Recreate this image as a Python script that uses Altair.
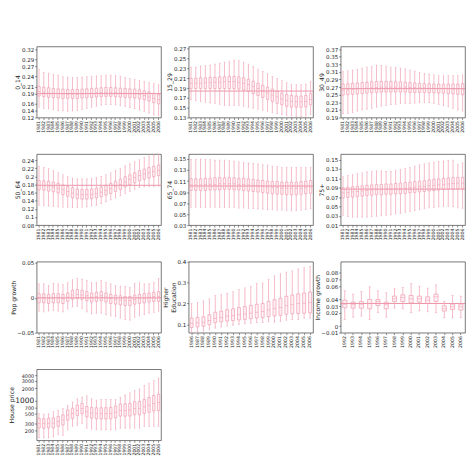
import altair as alt
import pandas as pd

# ---------------- data ----------------
YEARS_81 = list(range(1981, 2007))
YEARS_86 = list(range(1986, 2007))
YEARS_92 = list(range(1992, 2007))

# 0_14
A_MED = [0.196,0.194,0.192,0.191,0.190,0.189,0.188,0.188,0.188,0.189,0.190,0.191,0.192,0.193,0.194,0.194,0.193,0.192,0.191,0.190,0.189,0.187,0.184,0.180,0.176,0.172]
A_Q1 = [0.183,0.181,0.179,0.178,0.177,0.176,0.176,0.176,0.176,0.177,0.178,0.179,0.180,0.181,0.182,0.182,0.181,0.180,0.179,0.178,0.177,0.175,0.172,0.168,0.164,0.160]
A_Q3 = [0.211,0.209,0.207,0.205,0.204,0.203,0.202,0.202,0.202,0.203,0.204,0.205,0.206,0.207,0.208,0.208,0.207,0.206,0.205,0.204,0.203,0.201,0.198,0.195,0.191,0.187]
A_LO = [0.150,0.147,0.145,0.143,0.140,0.139,0.138,0.139,0.141,0.144,0.147,0.150,0.153,0.156,0.158,0.158,0.157,0.155,0.152,0.149,0.146,0.142,0.138,0.133,0.128,0.125]
A_HI = [0.262,0.252,0.250,0.247,0.244,0.240,0.238,0.237,0.237,0.238,0.240,0.241,0.242,0.243,0.244,0.244,0.243,0.241,0.237,0.234,0.231,0.228,0.225,0.222,0.219,0.216]
A_REF = 0.19

# 15_29
B_MED = [0.200,0.200,0.200,0.201,0.201,0.202,0.202,0.203,0.203,0.203,0.202,0.200,0.197,0.193,0.189,0.185,0.180,0.176,0.172,0.168,0.165,0.163,0.162,0.162,0.163,0.167]
B_Q1 = [0.189,0.189,0.189,0.189,0.189,0.189,0.189,0.189,0.189,0.189,0.188,0.186,0.183,0.179,0.175,0.171,0.167,0.163,0.159,0.156,0.153,0.151,0.151,0.151,0.152,0.156]
B_Q3 = [0.210,0.210,0.211,0.211,0.212,0.212,0.213,0.213,0.214,0.214,0.213,0.211,0.208,0.204,0.200,0.196,0.192,0.188,0.184,0.180,0.177,0.175,0.174,0.174,0.175,0.179]
B_LO = [0.166,0.164,0.162,0.161,0.160,0.159,0.157,0.155,0.154,0.154,0.154,0.153,0.151,0.149,0.147,0.145,0.143,0.140,0.138,0.136,0.134,0.133,0.132,0.132,0.133,0.136]
B_HI = [0.233,0.233,0.235,0.236,0.237,0.239,0.241,0.243,0.245,0.247,0.246,0.243,0.239,0.234,0.229,0.224,0.219,0.214,0.210,0.206,0.201,0.198,0.197,0.197,0.198,0.204]
B_REF = 0.184

# 30_49
C_MED = [0.262,0.263,0.264,0.265,0.266,0.267,0.268,0.269,0.270,0.270,0.270,0.270,0.270,0.270,0.269,0.269,0.268,0.268,0.267,0.267,0.266,0.266,0.266,0.265,0.265,0.265]
C_Q1 = [0.249,0.250,0.251,0.252,0.253,0.254,0.255,0.256,0.257,0.257,0.257,0.257,0.257,0.257,0.256,0.256,0.256,0.256,0.255,0.255,0.254,0.254,0.253,0.252,0.251,0.250]
C_Q3 = [0.278,0.279,0.280,0.281,0.282,0.283,0.284,0.285,0.285,0.285,0.285,0.284,0.284,0.283,0.282,0.281,0.280,0.279,0.279,0.278,0.278,0.278,0.278,0.278,0.278,0.279]
C_LO = [0.200,0.201,0.203,0.207,0.210,0.212,0.214,0.217,0.220,0.222,0.224,0.225,0.226,0.227,0.227,0.228,0.229,0.229,0.229,0.227,0.224,0.221,0.218,0.214,0.210,0.207]
C_HI = [0.311,0.313,0.315,0.317,0.320,0.323,0.325,0.328,0.327,0.325,0.323,0.322,0.320,0.318,0.315,0.312,0.309,0.306,0.304,0.302,0.300,0.300,0.300,0.300,0.300,0.302]
C_REF = 0.266

# 50_64
D_MED = [0.178,0.177,0.176,0.174,0.171,0.167,0.163,0.159,0.156,0.155,0.155,0.156,0.158,0.161,0.165,0.170,0.175,0.180,0.186,0.192,0.197,0.202,0.206,0.209,0.212,0.215]
D_Q1 = [0.167,0.166,0.164,0.162,0.159,0.155,0.151,0.147,0.145,0.144,0.144,0.145,0.147,0.150,0.154,0.158,0.163,0.168,0.174,0.179,0.184,0.189,0.193,0.196,0.199,0.202]
D_Q3 = [0.190,0.189,0.188,0.186,0.183,0.179,0.175,0.172,0.169,0.168,0.168,0.169,0.171,0.174,0.178,0.183,0.188,0.193,0.199,0.204,0.209,0.214,0.218,0.222,0.225,0.228]
D_LO = [0.129,0.128,0.127,0.126,0.125,0.124,0.124,0.123,0.123,0.124,0.125,0.127,0.129,0.133,0.137,0.142,0.147,0.152,0.158,0.163,0.168,0.172,0.174,0.175,0.175,0.176]
D_HI = [0.224,0.222,0.219,0.214,0.209,0.204,0.199,0.196,0.194,0.194,0.194,0.195,0.197,0.200,0.204,0.209,0.215,0.220,0.226,0.231,0.236,0.241,0.246,0.250,0.253,0.255]
D_REF = 0.178

# 65_74
E_MED = [0.103,0.103,0.103,0.104,0.104,0.104,0.105,0.105,0.105,0.105,0.104,0.104,0.103,0.102,0.101,0.100,0.099,0.098,0.098,0.097,0.097,0.097,0.097,0.097,0.098,0.099]
E_Q1 = [0.093,0.093,0.093,0.093,0.094,0.094,0.094,0.095,0.095,0.094,0.094,0.093,0.092,0.091,0.090,0.089,0.088,0.087,0.086,0.086,0.085,0.085,0.085,0.086,0.087,0.088]
E_Q3 = [0.114,0.114,0.114,0.115,0.115,0.116,0.116,0.116,0.116,0.116,0.115,0.115,0.114,0.113,0.112,0.111,0.110,0.109,0.109,0.108,0.108,0.108,0.108,0.109,0.110,0.111]
E_LO = [0.062,0.062,0.062,0.062,0.062,0.062,0.062,0.062,0.062,0.062,0.061,0.061,0.060,0.060,0.059,0.059,0.058,0.058,0.057,0.057,0.056,0.056,0.056,0.057,0.058,0.060]
E_HI = [0.149,0.149,0.150,0.149,0.149,0.148,0.148,0.148,0.147,0.146,0.145,0.144,0.143,0.142,0.141,0.140,0.139,0.137,0.136,0.135,0.135,0.135,0.135,0.135,0.135,0.135]
E_REF = 0.101

# 75+
F_MED = [0.079,0.080,0.081,0.082,0.083,0.084,0.085,0.086,0.086,0.087,0.087,0.088,0.088,0.089,0.090,0.091,0.092,0.093,0.094,0.095,0.096,0.097,0.098,0.099,0.100,0.100]
F_Q1 = [0.068,0.069,0.070,0.071,0.072,0.073,0.074,0.075,0.075,0.076,0.076,0.077,0.077,0.078,0.079,0.080,0.081,0.082,0.083,0.084,0.085,0.086,0.087,0.087,0.088,0.088]
F_Q3 = [0.090,0.091,0.092,0.093,0.094,0.095,0.096,0.097,0.097,0.098,0.098,0.099,0.100,0.101,0.102,0.103,0.104,0.105,0.107,0.108,0.109,0.110,0.111,0.112,0.112,0.112]
F_LO = [0.030,0.028,0.027,0.027,0.027,0.027,0.028,0.029,0.030,0.031,0.032,0.034,0.035,0.037,0.039,0.041,0.043,0.045,0.047,0.048,0.049,0.050,0.050,0.049,0.047,0.046]
F_HI = [0.114,0.116,0.118,0.120,0.122,0.124,0.125,0.126,0.126,0.125,0.125,0.127,0.129,0.131,0.133,0.136,0.139,0.141,0.143,0.145,0.146,0.147,0.148,0.149,0.140,0.143]
F_REF = 0.087

# Pop growth
G_MED = [0.000,0.000,-0.001,0.000,0.000,-0.001,0.001,0.004,0.005,0.004,0.003,0.001,0.002,0.003,0.001,-0.001,-0.002,-0.003,-0.004,-0.004,-0.002,-0.001,0.000,0.001,0.002,0.002]
G_Q1 = [-0.007,-0.007,-0.008,-0.007,-0.007,-0.008,-0.005,-0.002,-0.001,-0.002,-0.004,-0.006,-0.005,-0.004,-0.006,-0.008,-0.009,-0.010,-0.011,-0.011,-0.009,-0.008,-0.007,-0.006,-0.005,-0.005]
G_Q3 = [0.006,0.006,0.005,0.006,0.006,0.005,0.007,0.011,0.012,0.011,0.009,0.007,0.008,0.009,0.007,0.005,0.004,0.003,0.002,0.002,0.004,0.005,0.006,0.007,0.008,0.009]
G_LO = [-0.019,-0.020,-0.019,-0.018,-0.019,-0.020,-0.016,-0.013,-0.012,-0.015,-0.020,-0.023,-0.022,-0.022,-0.024,-0.026,-0.027,-0.029,-0.031,-0.032,-0.028,-0.026,-0.024,-0.022,-0.021,-0.019]
G_HI = [0.020,0.020,0.018,0.021,0.020,0.019,0.022,0.026,0.028,0.027,0.025,0.022,0.022,0.025,0.022,0.020,0.018,0.017,0.016,0.015,0.021,0.022,0.020,0.021,0.022,0.028]
G_REF = 0.0

# Higher Education
H_MED = [0.105,0.107,0.110,0.118,0.128,0.133,0.139,0.141,0.146,0.150,0.154,0.158,0.161,0.169,0.175,0.180,0.189,0.194,0.199,0.201,0.205]
H_Q1 = [0.085,0.088,0.091,0.098,0.108,0.112,0.116,0.118,0.121,0.124,0.127,0.130,0.132,0.137,0.140,0.143,0.148,0.150,0.152,0.153,0.155]
H_Q3 = [0.130,0.133,0.136,0.146,0.158,0.163,0.170,0.174,0.180,0.185,0.190,0.196,0.200,0.210,0.218,0.225,0.234,0.240,0.246,0.250,0.255]
H_LO = [0.062,0.064,0.068,0.074,0.082,0.087,0.092,0.096,0.100,0.102,0.105,0.108,0.108,0.112,0.110,0.114,0.120,0.122,0.122,0.128,0.130]
H_HI = [0.200,0.205,0.212,0.222,0.238,0.242,0.248,0.257,0.268,0.274,0.281,0.296,0.298,0.316,0.332,0.342,0.350,0.356,0.365,0.371,0.376]

# Income growth
I_MED = [0.033,0.032,0.033,0.034,0.037,0.032,0.041,0.043,0.041,0.041,0.039,0.044,0.026,0.029,0.029]
I_Q1 = [0.0275,0.027,0.027,0.026,0.031,0.026,0.037,0.037,0.035,0.036,0.034,0.037,0.0225,0.025,0.024]
I_Q3 = [0.039,0.036,0.037,0.040,0.040,0.036,0.045,0.047,0.046,0.045,0.044,0.048,0.0305,0.033,0.033]
I_LO = [0.010,0.0135,0.015,0.010,0.020,0.0135,0.027,0.026,0.020,0.023,0.0215,0.020,0.0125,0.0125,0.0125]
I_HI = [0.053,0.048,0.052,0.059,0.053,0.050,0.056,0.058,0.064,0.060,0.057,0.062,0.037,0.046,0.045]
I_REF = 0.034

# House price
J_MED = [296,290,296,300,325,355,460,507,600,660,555,520,507,500,500,507,540,600,600,610,660,660,725,790,870,915]
J_Q1 = [230,226,230,232,250,272,350,385,455,500,420,392,380,375,372,375,398,440,435,440,475,470,505,540,580,595]
J_Q3 = [390,382,390,396,430,470,610,675,800,880,740,700,690,690,695,710,760,850,860,880,960,980,1090,1210,1350,1460]
J_LO = [133,133,133,140,160,150,207,250,265,296,227,215,207,207,207,207,207,227,227,227,227,227,250,250,250,250]
J_HI = [500,490,495,555,600,660,790,950,1130,1240,1350,1130,1050,1090,1090,1090,1090,1240,1400,1560,1770,1940,2320,2670,3030,3500]

# ---------------- style ----------------
PINK = "#f19db0"
REFC = "#e6788f"
W = 126
H = 72
FONT = "DejaVu Sans"


def panel(years, med, q1, q3, lo, hi, title, domain, ticks, ref=None, log=False, label_size=None):
    df = pd.DataFrame({"year": years, "med": med, "q1": q1, "q3": q3, "lo": lo, "hi": hi})
    band = W / len(years)
    x = alt.X("year:O", title=None,
              scale=alt.Scale(paddingInner=0, paddingOuter=0),
              axis=alt.Axis(labelAngle=270, labelFontSize=4.7, labelPadding=1, tickSize=2,
                            labelOverlap=False, domain=False, labelFont=FONT))
    yscale = alt.Scale(domain=domain, nice=False, zero=False, type="log" if log else "linear")
    ax_kw = dict(values=ticks, format="~g", labelFontSize=5.6, tickSize=2, labelPadding=1,
                 domain=False, grid=False, titlePadding=0.5, titleFontSize=6.2,
                 labelFont=FONT, titleFont=FONT, titleFontWeight="normal")
    if label_size is not None:
        ax_kw["labelFontSize"] = label_size
    yaxis = alt.Axis(**ax_kw)

    def Y(field):
        return alt.Y(field, scale=yscale, axis=yaxis, title=title)

    base = alt.Chart(df).encode(x=x)
    layers = []
    if ref is not None:
        layers.append(alt.Chart(pd.DataFrame({"v": [ref]}))
                      .mark_rule(color=REFC, strokeWidth=0.8)
                      .encode(y=Y("v:Q")))
    layers += [
        base.mark_rule(color=PINK, strokeWidth=0.7).encode(y=Y("lo:Q"), y2="q1:Q"),
        base.mark_rule(color=PINK, strokeWidth=0.7).encode(y=Y("q3:Q"), y2="hi:Q"),
        base.mark_bar(width=alt.RelativeBandSize(0.5), fill=PINK, fillOpacity=0.15,
                      stroke=PINK, strokeWidth=0.7).encode(y=Y("q1:Q"), y2="q3:Q"),
        base.mark_tick(color=PINK, thickness=0.8, size=band * 0.5).encode(y=Y("med:Q")),
        base.mark_tick(color=PINK, thickness=0.7, size=max(band * 0.28, 1.5)).encode(y=Y("lo:Q")),
        base.mark_tick(color=PINK, thickness=0.7, size=max(band * 0.28, 1.5)).encode(y=Y("hi:Q")),
    ]
    return alt.layer(*layers).properties(width=W, height=H)


p1 = panel(YEARS_81, A_MED, A_Q1, A_Q3, A_LO, A_HI, "0_14", [0.12, 0.328],
           [0.12, 0.14, 0.16, 0.19, 0.21, 0.24, 0.27, 0.29, 0.32], A_REF)
p2 = panel(YEARS_81, B_MED, B_Q1, B_Q3, B_LO, B_HI, "15_29", [0.13, 0.275],
           [0.13, 0.15, 0.17, 0.19, 0.21, 0.23, 0.25, 0.27], B_REF)
p3 = panel(YEARS_81, C_MED, C_Q1, C_Q3, C_LO, C_HI, "30_49", [0.19, 0.377],
           [0.19, 0.21, 0.23, 0.25, 0.27, 0.29, 0.31, 0.33, 0.35, 0.37], C_REF)
p4 = panel(YEARS_81, D_MED, D_Q1, D_Q3, D_LO, D_HI, "50_64", [0.08, 0.255],
           [0.08, 0.1, 0.12, 0.14, 0.16, 0.18, 0.2, 0.22, 0.24], D_REF)
p5 = panel(YEARS_81, E_MED, E_Q1, E_Q3, E_LO, E_HI, "65_74", [0.03, 0.159],
           [0.03, 0.05, 0.07, 0.09, 0.11, 0.13, 0.15], E_REF)
p6 = panel(YEARS_81, F_MED, F_Q1, F_Q3, F_LO, F_HI, "75+", [0.01, 0.162],
           [0.01, 0.03, 0.05, 0.07, 0.09, 0.11, 0.13, 0.15], F_REF)
p7 = panel(YEARS_81, G_MED, G_Q1, G_Q3, G_LO, G_HI, "Pop growth", [-0.05, 0.052],
           [-0.05, 0, 0.05], G_REF)
p8 = panel(YEARS_86, H_MED, H_Q1, H_Q3, H_LO, H_HI, ["Higher", "Education"], [0.06, 0.4],
           [0.1, 0.2, 0.3, 0.4])
p9 = panel(YEARS_92, I_MED, I_Q1, I_Q3, I_LO, I_HI, "Income growth", [-0.01, 0.097],
           [-0.01, 0, 0.02, 0.03, 0.04, 0.06, 0.07, 0.08], I_REF)
p10 = panel(YEARS_81, J_MED, J_Q1, J_Q3, J_LO, J_HI, "House price", [117, 5670],
            [200, 300, 500, 700, 1000, 2000, 3000, 4000], log=True,
            label_size=alt.ExprRef(expr="datum.value == 1000 ? 7.5 : 5"))

chart = (
    alt.concat(p1, p2, p3, p4, p5, p6, p7, p8, p9, p10, columns=3,
               spacing={"row": 37, "column": 28}, bounds="flush")
    .properties(padding={"top": 35, "left": 0, "right": 0, "bottom": 0}, background="white")
    .configure_view(stroke="#555555", strokeWidth=0.8)
    .configure_axis(tickColor="#444444", labelColor="#222222", titleColor="#222222", tickWidth=0.6)
    .resolve_scale(y="independent")
)

chart.save("out.html", embed_options={"renderer": "svg", "actions": False})
